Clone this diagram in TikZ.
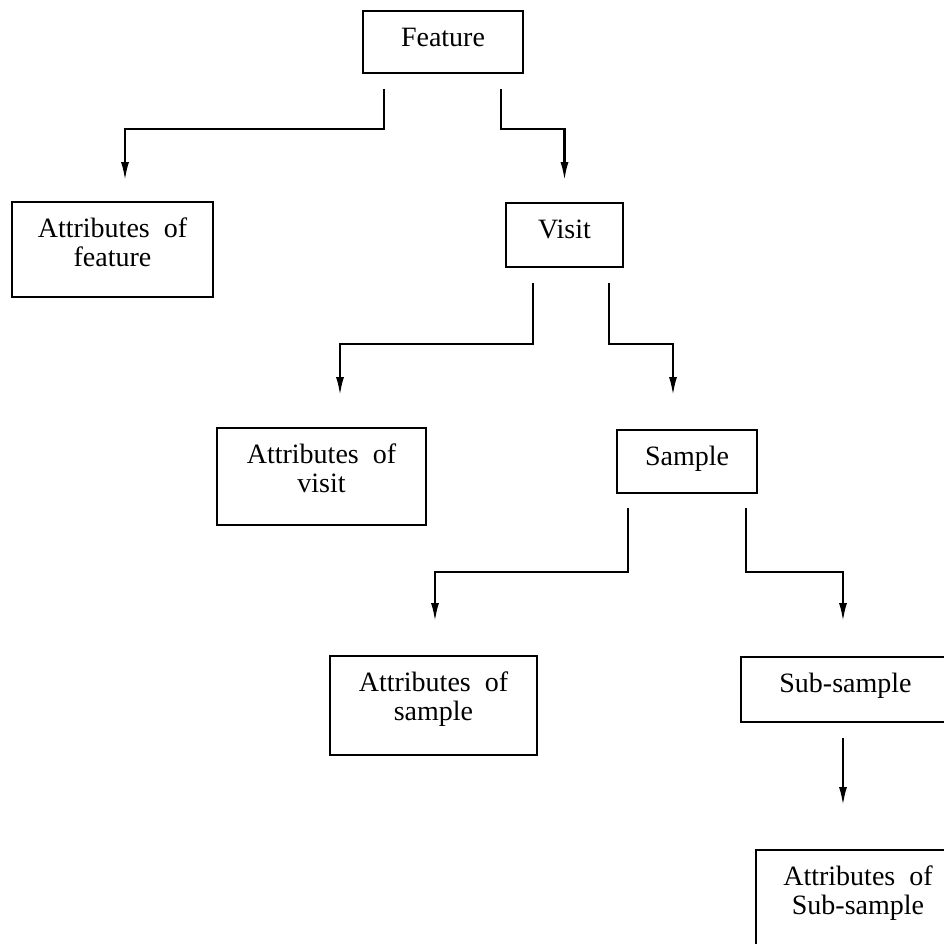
\documentclass[tikz,border=0pt]{standalone}
\usepackage{fontspec}
\setmainfont{Liberation Serif}
\usetikzlibrary{arrows.meta}

\begin{document}
\begin{tikzpicture}[x=0.5pt, y=-0.5pt, >={Latex[length=9.5pt,width=4pt]}]

    %styles
    \tikzstyle{entity}=[rectangle, draw=black, line width=0.9pt, inner sep=0pt, align=center, font=\fontsize{14}{14.5}\selectfont, text height=17.5pt]
    \tikzstyle{attrbox}=[entity, text height=32pt]
    \tikzstyle{link}=[->, black, line width=1.3pt]

    \useasboundingbox (0,0) rectangle (944,944);

    % nodes
    \node[entity, minimum width=80pt, minimum height=31pt, text depth=13.5pt] (feat) at (443,42) {Feature};
    \node[attrbox, minimum width=100.5pt, minimum height=47.5pt, text depth=15.5pt] (attf) at (112.5,249.5) {Attributes\enspace of\\feature};
    \node[entity, minimum width=58.5pt, minimum height=32pt, text depth=14.5pt] (visit) at (564.5,235) {Visit};
    \node[attrbox, minimum width=104.5pt, minimum height=48.5pt, text depth=16.5pt] (attv) at (321.5,476.5) {Attributes\enspace of\\visit};
    \node[entity, minimum width=70pt, minimum height=31.5pt, text depth=14pt] (samp) at (687,461.5) {Sample};
    \node[attrbox, minimum width=103.5pt, minimum height=49.5pt, text depth=17.5pt] (atts) at (433.5,705.5) {Attributes\enspace of\\sample};
    \node[entity, minimum width=104.5pt, minimum height=32.5pt, text depth=15pt] (subs) at (845.5,689.5) {Sub-sample};
    \node[attrbox, minimum width=102pt, minimum height=49pt, text depth=17pt] (attss) at (858,899) {Attributes\enspace of\\Sub-sample};

    % arrows
    \draw[link] ([shift={(-59,15)}]feat.south) -- ++(0,40) -| ([shift={(12.5,-20)}]attf.north);
    \draw[link] ([shift={(58,15)}]feat.south) -- ++(0,40) -| ([shift={(0,-21)}]visit.north);
    \draw[link] ([shift={(-31.5,15)}]visit.south) -- ++(0,61) -| ([shift={(18.5,-31)}]attv.north);
    \draw[link] ([shift={(44.5,15)}]visit.south) -- ++(0,61) -| ([shift={(-14,-33)}]samp.north);
    \draw[link] ([shift={(-59,14)}]samp.south) -- ++(0,64) -| ([shift={(1.5,-33)}]atts.north);
    \draw[link] ([shift={(59,14)}]samp.south) -- ++(0,64) -| ([shift={(-2.5,-34)}]subs.north);
    \draw[link] ([shift={(-2.5,15)}]subs.south) -- ([shift={(-15,-43)}]attss.north);
\end{tikzpicture}
\end{document}
